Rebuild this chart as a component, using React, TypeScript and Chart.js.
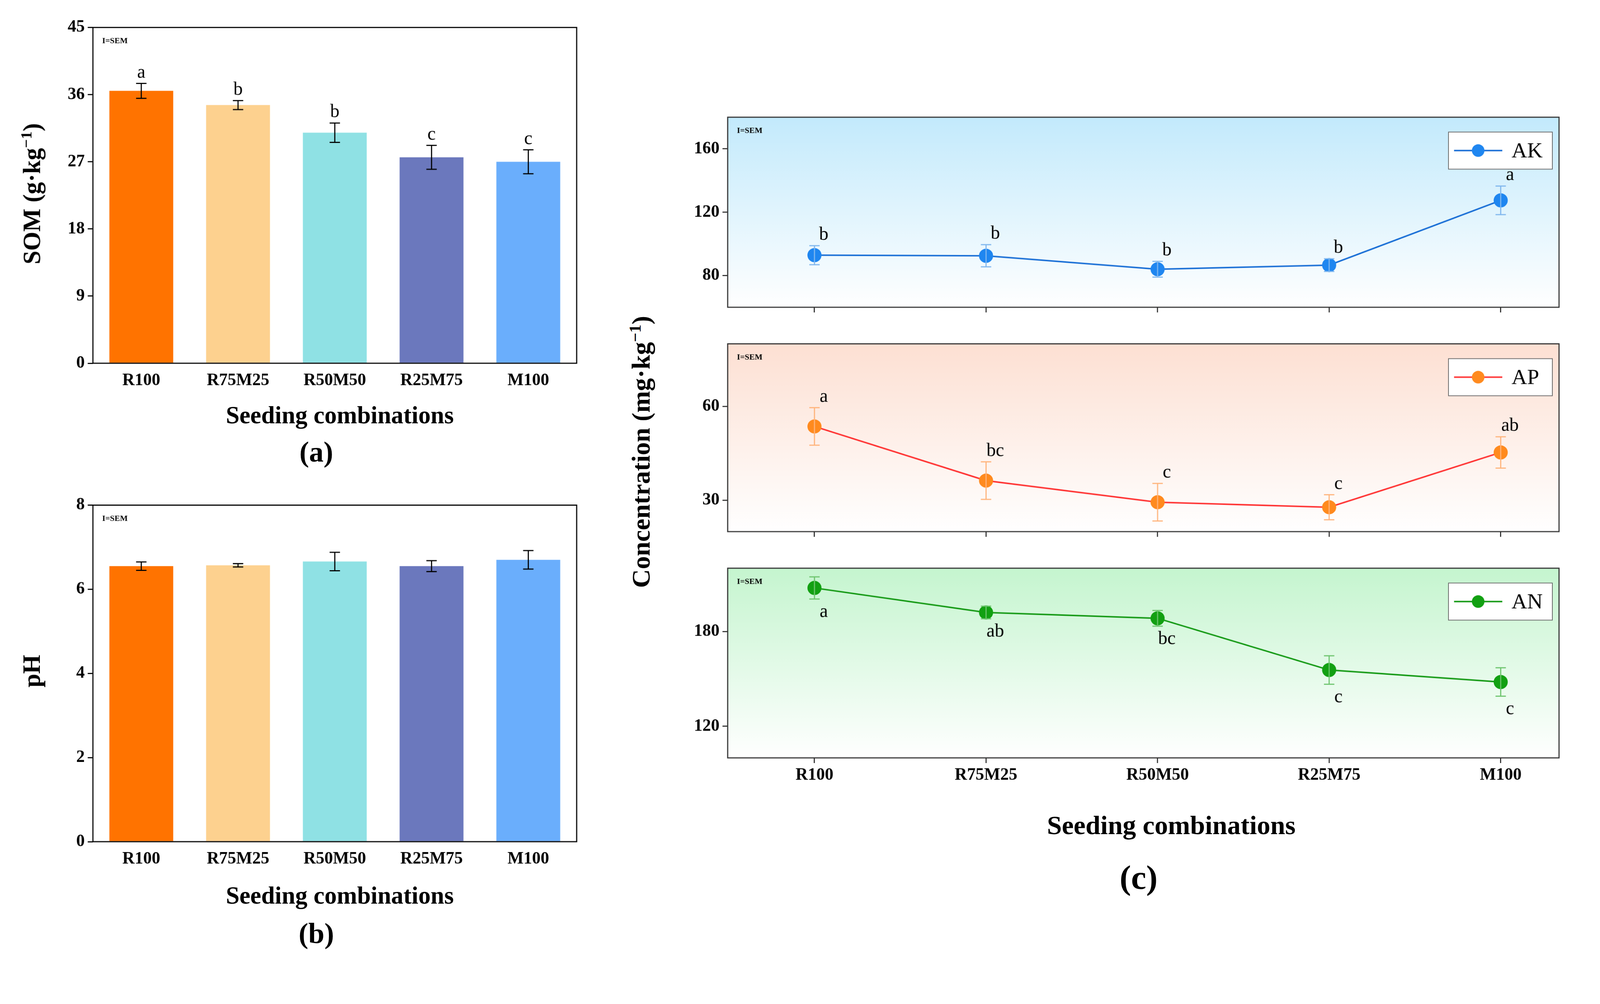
import React, { useEffect, useRef } from "react";
import { Chart, registerables } from "chart.js";
Chart.register(...registerables);

const categories = ["R100", "R75M25", "R50M50", "R25M75", "M100"];
const somValues = [36.5, 34.6, 30.9, 27.6, 27.0];
const somErr = [1.0, 0.6, 1.3, 1.6, 1.6];
const somLetters = ["a", "b", "b", "c", "c"];
const phValues = [6.55, 6.57, 6.66, 6.55, 6.7];
const phErr = [0.1, 0.04, 0.22, 0.13, 0.22];
const barColors = ["#ff7300", "#fdd18f", "#8fe1e4", "#6b78bd", "#6aaefc"];
const akValues = [92.9, 92.5, 84, 86.6, 127.5];
const akErr = [6, 7, 5, 4, 9];
const akLetters = ["b", "b", "b", "b", "a"];
const apValues = [53.6, 36.3, 29.4, 27.8, 45.3];
const apErr = [6, 6, 6, 4, 5];
const apLetters = ["a", "bc", "c", "c", "ab"];
const anValues = [207.5, 192, 188.3, 155.6, 148];
const anErr = [7, 4, 5, 9, 9];
const anLetters = ["a", "ab", "bc", "c", "c"];

const S = 2.75;
const FONT = "'Liberation Serif', 'Times New Roman', serif";
const LM = 160, TP = 30, RP = 30, BM = 90;

function boxPlugin(color: string) {
  return {
    id: "box",
    afterDraw(c: any) {
      const { ctx, chartArea: a } = c;
      ctx.save();
      ctx.strokeStyle = color;
      ctx.lineWidth = 3;
      ctx.strokeRect(a.left, a.top, a.right - a.left, a.bottom - a.top);
      ctx.fillStyle = "#000";
      ctx.font = `bold 22px ${FONT}`;
      ctx.fillText("I=SEM", a.left + 25, a.top + 42);
      ctx.restore();
    },
  };
}

function errPlugin(vals: number[], errs: number[], letters: string[] | null, color: string, below = false, lineX = false) {
  return {
    id: "err",
    afterDatasetsDraw(c: any) {
      const { ctx } = c;
      const xs = c.scales.x, ys = c.scales.y;
      ctx.save();
      ctx.strokeStyle = color;
      ctx.lineWidth = 3;
      vals.forEach((v, i) => {
        const x = xs.getPixelForValue(i);
        const yt = ys.getPixelForValue(v + errs[i]);
        const yb = ys.getPixelForValue(v - errs[i]);
        ctx.beginPath();
        ctx.moveTo(x, yt); ctx.lineTo(x, yb);
        ctx.moveTo(x - 14, yt); ctx.lineTo(x + 14, yt);
        ctx.moveTo(x - 14, yb); ctx.lineTo(x + 14, yb);
        ctx.stroke();
        if (letters) {
          ctx.fillStyle = "#000";
          ctx.font = `50px ${FONT}`;
          ctx.textAlign = "center";
          if (below) {
            ctx.textBaseline = "top";
            ctx.fillText(letters[i], x + 25, yb + 10);
          } else {
            ctx.textBaseline = "bottom";
            ctx.fillText(letters[i], x + (lineX ? 25 : 0), yt - 4);
          }
        }
      });
      ctx.restore();
    },
  };
}

function gradPlugin(top: string) {
  return {
    id: "grad",
    beforeDraw(c: any) {
      const { ctx, chartArea: a } = c;
      const g = ctx.createLinearGradient(0, a.top, 0, a.bottom);
      g.addColorStop(0, top);
      g.addColorStop(1, "#ffffff");
      ctx.save();
      ctx.fillStyle = g;
      ctx.fillRect(a.left, a.top, a.right - a.left, a.bottom - a.top);
      ctx.restore();
    },
  };
}

function legendPlugin(label: string, line: string, pt: string) {
  return {
    id: "leg",
    afterDraw(c: any) {
      const { ctx, chartArea: a } = c;
      const w = 280, h = 100;
      const x = a.right - w - 18, y = a.top + 40;
      ctx.save();
      ctx.fillStyle = "#fff";
      ctx.fillRect(x, y, w, h);
      ctx.strokeStyle = "#666";
      ctx.lineWidth = 2;
      ctx.strokeRect(x, y, w, h);
      ctx.strokeStyle = line;
      ctx.lineWidth = 4;
      ctx.beginPath(); ctx.moveTo(x + 15, y + h / 2); ctx.lineTo(x + 145, y + h / 2); ctx.stroke();
      ctx.fillStyle = pt;
      ctx.beginPath(); ctx.arc(x + 80, y + h / 2, 17, 0, Math.PI * 2); ctx.fill();
      ctx.fillStyle = "#000";
      ctx.font = `58px ${FONT}`;
      ctx.textBaseline = "middle";
      ctx.fillText(label, x + 170, y + h / 2 + 3);
      ctx.restore();
    },
  };
}

type Spec = { left: number; top: number; w: number; h: number; make: (cv: HTMLCanvasElement) => Chart };

function ChartBox({ spec }: { spec: Spec }) {
  const ref = useRef<HTMLCanvasElement>(null);
  useEffect(() => {
    const ch = spec.make(ref.current!);
    return () => ch.destroy();
  }, []);
  const W = spec.w + LM + RP, H = spec.h + TP + BM;
  return (
    <div style={{ position: "absolute", left: spec.left - LM, top: spec.top - TP, width: W, height: H }}>
      <canvas ref={ref} width={W} height={H} style={{ width: W, height: H }} />
    </div>
  );
}

const tickFont = { family: FONT, size: 46, weight: "bold" as const };

function barChart(cv: HTMLCanvasElement, vals: number[], errs: number[], letters: string[] | null, max: number, step: number) {
  return new Chart(cv, {
    type: "bar",
    data: { labels: categories, datasets: [{ data: vals, backgroundColor: barColors, barPercentage: 0.66, categoryPercentage: 1 }] },
    options: {
      animation: false, responsive: false, devicePixelRatio: 1,
      layout: { padding: { top: TP, right: RP, left: 0, bottom: 0 } },
      plugins: { legend: { display: false }, tooltip: { enabled: false } },
      scales: {
        x: { grid: { display: true, drawOnChartArea: false, color: "#000", tickLength: 0, lineWidth: 0 }, border: { display: false }, ticks: { font: tickFont, color: "#000", padding: 20 }, afterFit: (s: any) => { s.height = BM; } },
        y: { min: 0, max, ticks: { stepSize: step, font: tickFont, color: "#000", padding: 8 }, grid: { drawOnChartArea: false, color: "#000", tickLength: 14, lineWidth: 3 }, border: { display: false }, afterFit: (s: any) => { s.width = LM; } },
      },
    } as any,
    plugins: [errPlugin(vals, errs, letters, "#000"), boxPlugin("#000")],
  });
}

function lineChart(cv: HTMLCanvasElement, vals: number[], errs: number[], letters: string[], min: number, max: number, step: number, lc: string, pc: string, ec: string, bg: string, label: string, showX: boolean, below: boolean) {
  return new Chart(cv, {
    type: "line",
    data: { datasets: [{ data: vals.map((v, i) => ({ x: i, y: v })), borderColor: lc, borderWidth: 4, pointBackgroundColor: pc, pointBorderColor: pc, pointRadius: 17 }] },
    options: {
      animation: false, responsive: false, devicePixelRatio: 1,
      layout: { padding: { top: TP, right: RP, left: 0, bottom: 0 } },
      plugins: { legend: { display: false }, tooltip: { enabled: false } },
      scales: {
        x: { type: "linear", min: -0.506, max: 4.34, afterBuildTicks: (s: any) => { s.ticks = [0, 1, 2, 3, 4].map((v) => ({ value: v })); }, ticks: { callback: (v: any) => (showX ? categories[v] : ""), font: tickFont, color: "#000", padding: 6 }, grid: { drawOnChartArea: false, color: "#333", tickLength: 14, lineWidth: 3 }, border: { display: false }, afterFit: (s: any) => { s.height = BM; } },
        y: { min, max, afterBuildTicks: (s: any) => { const t = []; for (let v = Math.ceil((min + 1) / step) * step; v < max; v += step) t.push({ value: v }); s.ticks = t; }, ticks: { font: tickFont, color: "#000", padding: 8 }, grid: { drawOnChartArea: false, color: "#333", tickLength: 14, lineWidth: 3 }, border: { display: false }, afterFit: (s: any) => { s.width = LM; } },
      },
    } as any,
    plugins: [gradPlugin(bg), errPlugin(vals, errs, letters, ec, below, true), boxPlugin("#333"), legendPlugin(label, lc, pc)],
  });
}

const specs: Spec[] = [
  { left: 242, top: 60, w: 1304, h: 911, make: (cv) => barChart(cv, somValues, somErr, somLetters, 45, 9) },
  { left: 242, top: 1348, w: 1304, h: 913, make: (cv) => barChart(cv, phValues, phErr, null, 8, 2) },
  { left: 1953, top: 302, w: 2241, h: 518, make: (cv) => lineChart(cv, akValues, akErr, akLetters, 60, 180, 40, "#1a6fd6", "#1f86f0", "#7fb6ee", "#c3eafc", "AK", false, false) },
  { left: 1953, top: 913, w: 2241, h: 512, make: (cv) => lineChart(cv, apValues, apErr, apLetters, 20, 80, 30, "#ff3333", "#ff8a1e", "#ffb37a", "#fde0d3", "AP", false, false) },
  { left: 1953, top: 1518, w: 2241, h: 517, make: (cv) => lineChart(cv, anValues, anErr, anLetters, 100, 220, 60, "#169a16", "#12a012", "#6cc46c", "#c5f5cf", "AN", true, true) },
];

const txt = (s: string, x: number, y: number, size: number, rot = false): React.ReactNode => (
  <div style={{ position: "absolute", left: x * S, top: y * S, transform: `translate(-50%,-50%)${rot ? " rotate(-90deg)" : ""}`, fontFamily: FONT, fontWeight: "bold", fontSize: size, whiteSpace: "nowrap", color: "#000" }}>{s}</div>
);

export default function App() {
  const k = Math.min(1, (window.innerWidth - 16) / 4296);
  return (
    <div style={{ width: 4296 * k, height: 2555 * k, overflow: "hidden" }}>
      <div style={{ position: "relative", width: 4296, height: 2555, background: "#fff", overflow: "hidden", transform: `scale(${k})`, transformOrigin: "0 0" }}>
        {specs.map((s, i) => <ChartBox key={i} spec={s} />)}
        <div style={{ position: "absolute", left: 28 * S, top: 187 * S, transform: "translate(-50%,-50%) rotate(-90deg)", fontFamily: FONT, fontWeight: "bold", fontSize: 66, whiteSpace: "nowrap" }}>SOM (g·kg<sup style={{ fontSize: 42 }}>−1</sup>)</div>
        {txt("pH", 28, 655, 66, true)}
        <div style={{ position: "absolute", left: 625 * S, top: 440 * S, transform: "translate(-50%,-50%) rotate(-90deg)", fontFamily: FONT, fontWeight: "bold", fontSize: 70, whiteSpace: "nowrap" }}>Concentration (mg·kg<sup style={{ fontSize: 44 }}>−1</sup>)</div>
        {txt("Seeding combinations", 330, 404, 66)}
        {txt("(a)", 307, 440, 78)}
        {txt("Seeding combinations", 330, 875, 66)}
        {txt("(b)", 307, 912, 78)}
        {txt("Seeding combinations", 1145, 806, 72)}
        {txt("(c)", 1113, 857, 92)}
      </div>
    </div>
  );
}
